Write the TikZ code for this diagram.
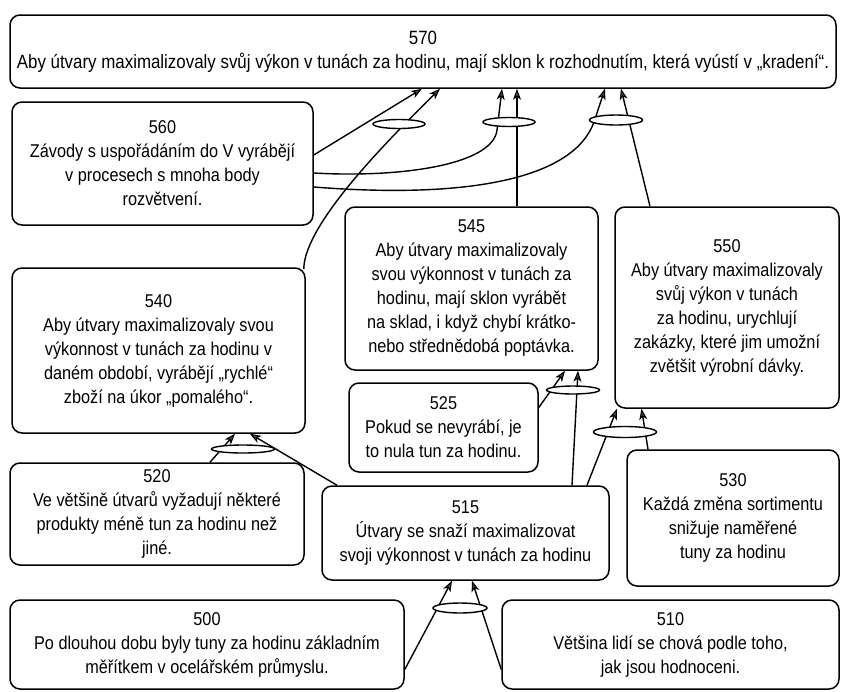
\documentclass[tikz,border=0pt]{standalone}
\usepackage{fontspec}
\setmainfont[FakeStretch=0.88]{Liberation Sans}
\usetikzlibrary{arrows.meta,shapes.geometric,calc}
\begin{document}
\begin{tikzpicture}[x=1pt,y=-1pt,
  treebox/.style={draw, line width=1.5pt, rounded corners=10pt, align=center,
    inner sep=0pt, font=\fontsize{18.5}{24}\selectfont},
  andjoin/.style={draw, ellipse, fill=white, line width=1.4pt, inner sep=0pt},
  link/.style={line width=1.4pt,
    -{Stealth[length=11pt,width=8pt,inset=3pt,fill=gray!50!black,line width=1pt]}}]
\useasboundingbox (0,0) rectangle (842,691);

% boxes
\node[treebox, minimum width=826pt, minimum height=73pt,
  font=\fontsize{19.2}{24}\selectfont] (b570) at (423,51.5)
  {570\\Aby útvary maximalizovaly svůj výkon v tunách za hodinu, mají sklon k rozhodnutím, která vyústí v „kradení“.};
\node[treebox, minimum width=301pt, minimum height=123pt] (b560) at (162.5,163.5)
  {560\\Závody s uspořádáním do V vyrábějí\\v procesech s mnoha body\\rozvětvení.};
\node[treebox, minimum width=253pt, minimum height=163pt] (b545) at (471.5,288.5)
  {545\\Aby útvary maximalizovaly\\svou výkonnost v tunách za\\hodinu, mají sklon vyrábět\\na sklad, i když chybí krátko-\\nebo střednědobá poptávka.};
\node[treebox, minimum width=224pt, minimum height=201pt] (b550) at (727,307.5)
  {550\\Aby útvary maximalizovaly\\svůj výkon v tunách\\za hodinu, urychlují\\zakázky, které jim umožní\\zvětšit výrobní dávky.};
\node[treebox, minimum width=293pt, minimum height=165pt] (b540) at (158.5,350.5)
  {540\\Aby útvary maximalizovaly svou\\výkonnost v tunách za hodinu v\\daném období, vyrábějí „rychlé“\\zboží na úkor „pomalého“.};
\node[treebox, minimum width=189pt, minimum height=89pt] (b525) at (443.5,427.5)
  {525\\Pokud se nevyrábí, je\\to nula tun za hodinu.};
\node[treebox, minimum width=294pt, minimum height=102pt] (b520) at (157,514)
  {520\\Ve většině útvarů vyžadují některé\\produkty méně tun za hodinu než\\jiné.};
\node[treebox, minimum width=287pt, minimum height=94pt] (b515) at (465.5,533)
  {515\\Útvary se snaží maximalizovat\\svoji výkonnost v tunách za hodinu};
\node[treebox, minimum width=212pt, minimum height=136pt] (b530) at (733,518)
  {530\\Každá změna sortimentu\\snižuje naměřené\\tuny za hodinu};
\node[treebox, minimum width=394pt, minimum height=89pt] (b500) at (207,644.5)
  {500\\Po dlouhou dobu byly tuny za hodinu základním\\měřítkem v ocelářském průmyslu.};
\node[treebox, minimum width=337pt, minimum height=89pt] (b510) at (670.5,644.5)
  {510\\Většina lidí se chová podle toho,\\jak jsou hodnoceni.};

% causes into 570
\draw[link] ($(b560.east)+(0,-8.5)$) -- ($(b570.south)+(-1,0)$);
\draw[link] ($(b540.north east)+(-2,2)$) .. controls (304,225) and (385,143) .. ($(b570.south)+(17,0)$);
\draw[link] ($(b560.east)+(0,9.5)$) .. controls (400,178) and (493,165) .. (497,130) -- ($(b570.south)+(79,0)$);
\draw[link] ($(b545.north)+(45.5,0)$) -- ($(b570.south)+(94,0)$);
\draw[link] ($(b560.east)+(0,23.5)$) .. controls (480,200) and (575,175) .. (594,122) -- ($(b570.south)+(182,0)$);
\draw[link] ($(b550.north)+(-77,0)$) -- ($(b570.south)+(198,0)$);

% causes into 545 and 550
\draw[link] ($(b525.east)+(0,-20)$) -- ($(b545.south)+(93.5,0)$);
\draw[link] ($(b515.north)+(106.5,0)$) -- ($(b545.south)+(106.5,0)$);
\draw[link] ($(b515.north)+(121.5,0)$) -- ($(b550.south)+(-110,0)$);
\draw[link] ($(b530.north)+(-85,0)$) -- ($(b550.south)+(-85.5,0)$);

% causes into 540
\draw[link] ($(b520.north)+(53,0)$) -- ($(b540.south)+(76.5,0)$);
\draw[link] ($(b515.north)+(-128.5,0)$) -- ($(b540.south)+(91.5,0)$);

% causes into 515
\draw[link] ($(b500.east)+(0,25)$) -- ($(b515.south)+(-13.5,0)$);
\draw[link] ($(b510.west)+(0,25)$) -- ($(b515.south)+(6.5,0)$);

% AND junctions
\node[andjoin, minimum width=52pt, minimum height=9pt] (e1) at (399,124) {};
\node[andjoin, minimum width=52pt, minimum height=9pt] (e2) at (509,122) {};
\node[andjoin, minimum width=53pt, minimum height=10pt] (e3) at (616,120) {};
\node[andjoin, minimum width=53pt, minimum height=8pt] (e4) at (573,390) {};
\node[andjoin, minimum width=63pt, minimum height=11pt] (e5) at (625,432) {};
\node[andjoin, minimum width=63pt, minimum height=8pt] (e6) at (243,449) {};
\node[andjoin, minimum width=54pt, minimum height=10pt] (e7) at (460,608) {};
\end{tikzpicture}
\end{document}
